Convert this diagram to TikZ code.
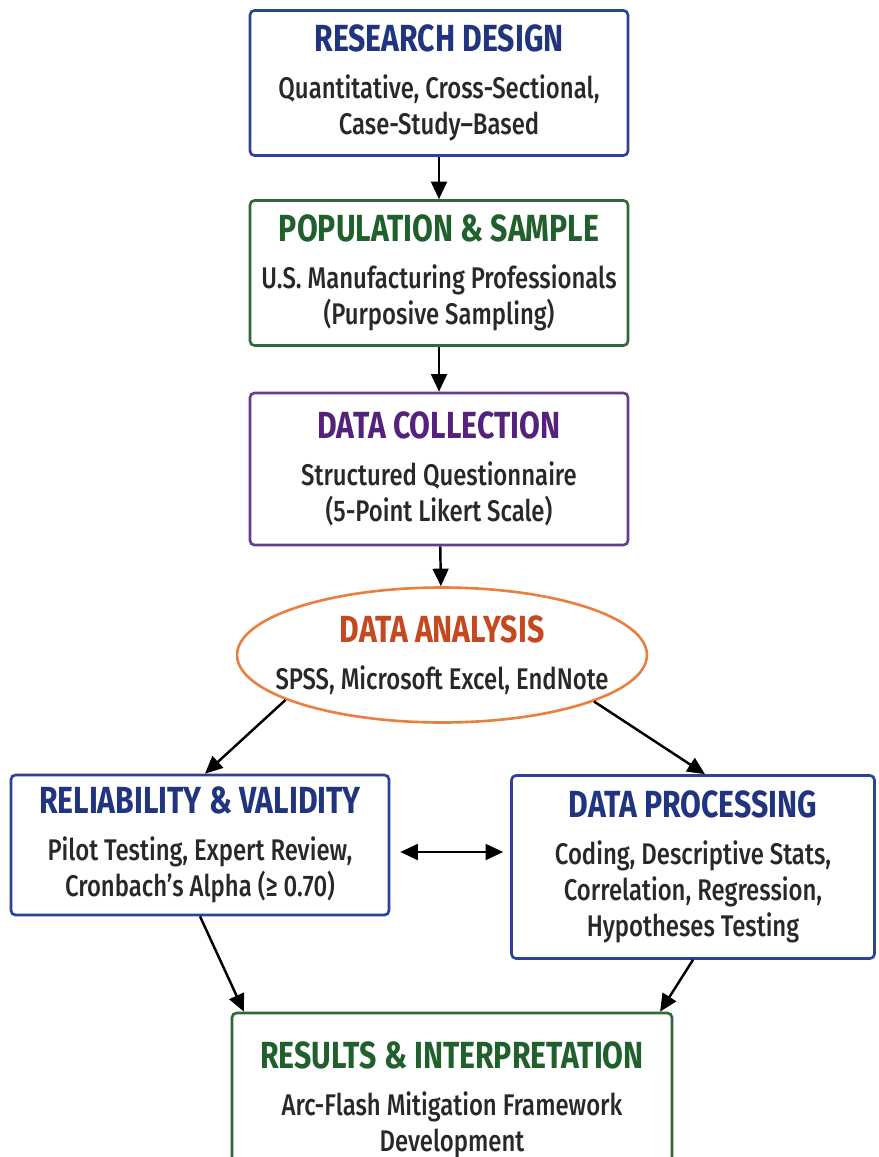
\documentclass[tikz,border=0pt]{standalone}
\usepackage{fontspec}
\setmainfont{Fira Sans}[UprightFont=* Medium,BoldFont=* Bold,FakeStretch=0.8]
\usetikzlibrary{arrows.meta,shapes.geometric}
\definecolor{navy}{RGB}{32,52,128}
\definecolor{bluebd}{RGB}{44,66,152}
\definecolor{greentx}{RGB}{32,96,44}
\definecolor{greenbd}{RGB}{48,104,56}
\definecolor{purptx}{RGB}{84,34,124}
\definecolor{purpbd}{RGB}{100,62,140}
\definecolor{orangetx}{RGB}{196,72,32}
\definecolor{orangebd}{RGB}{232,128,64}
\definecolor{bodytx}{RGB}{40,40,40}
\newcommand{\ttl}[2]{{\color{#1}\bfseries\fontsize{21.5}{24}\selectfont #2}\\[6pt]}
\begin{document}
\begin{tikzpicture}[x=0.02cm,y=-0.02cm,
  stage/.style={draw=#1,line width=1.5pt,rounded corners=2.5pt,fill=white,
    align=center,text=bodytx,font=\fontsize{17}{20.5}\selectfont,
    minimum width=7.56cm,minimum height=2.9cm,inner sep=2pt},
  flow/.style={-{Triangle[length=10pt,width=9pt]},line width=1.4pt},
  both/.style={{Triangle[length=10pt,width=9pt]}-{Triangle[length=10pt,width=9pt]},line width=1.4pt}]
\useasboundingbox (0,0) rectangle (879,1157);
\clip (0,0) rectangle (879,1157);
\node[stage=bluebd] (des) at (439,83) {\ttl{navy}{RESEARCH DESIGN}Quantitative, Cross-Sectional,\\Case-Study--Based};
\node[stage=greenbd] (pop) at (439,273) {\ttl{greentx}{POPULATION \& SAMPLE}U.S. Manufacturing Professionals\\(Purposive Sampling)};
\node[stage=purpbd,minimum height=3.04cm] (col) at (439,469) {\ttl{purptx}{DATA COLLECTION}Structured Questionnaire\\(5-Point Likert Scale)};
\node[stage=orangebd,ellipse,minimum width=8.2cm,minimum height=2.7cm,rounded corners=0pt,
  inner xsep=-0.6cm,inner ysep=-0.1cm] (ana) at (442,655) {\ttl{orangetx}{DATA ANALYSIS}SPSS, Microsoft Excel, EndNote};
\node[stage=bluebd,minimum height=2.8cm] (rel) at (200,845) {\ttl{navy}{RELIABILITY \& VALIDITY}Pilot Testing, Expert Review,\\Cronbach’s Alpha (≥ 0.70)};
\node[stage=bluebd,minimum width=7.26cm,minimum height=3.66cm] (proc) at (693,867) {\ttl{navy}{DATA PROCESSING}Coding, Descriptive Stats,\\Correlation, Regression,\\Hypotheses Testing};
\node[stage=greenbd,minimum width=8.8cm,minimum height=3.48cm] (res) at (452,1100) {\ttl{greentx}{RESULTS \& INTERPRETATION}Arc-Flash Mitigation Framework\\Development};
\draw[flow] (des) -- (pop);
\draw[flow] (pop) -- (col);
\draw[flow] (col) -- (ana);
\draw[flow] (ana.196) -- ([xshift=0.1cm]rel.north);
\draw[flow] (ana.343) -- ([xshift=0.24cm]proc.north);
\draw[both,shorten <=0.2cm,shorten >=0.14cm] ([yshift=-0.14cm]rel.east) -- ([yshift=-0.14cm]rel.east -| proc.west);
\draw[flow] (rel.south) -- (res.157);
\draw[flow] (proc.south) -- (res.23);
\end{tikzpicture}
\end{document}
